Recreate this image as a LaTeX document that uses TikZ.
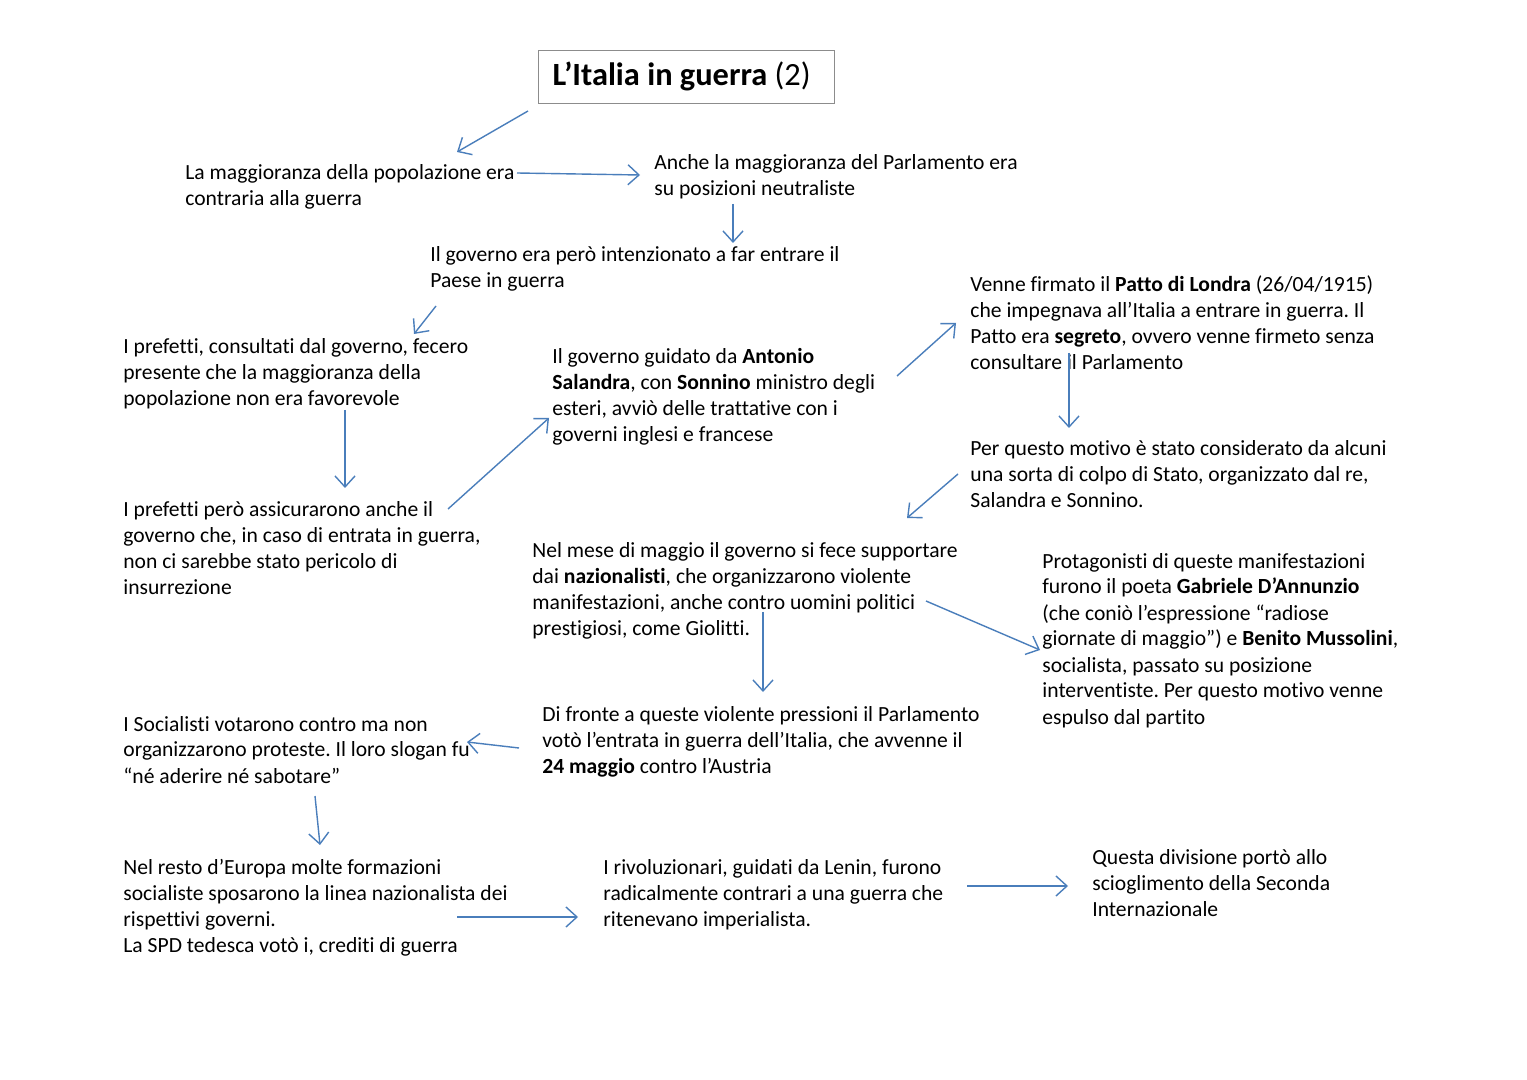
\documentclass[tikz,border=0pt]{standalone}
\usepackage{fontspec}
\setmainfont{Carlito}[Ligatures={NoCommon}]
\usetikzlibrary{arrows.meta}
\definecolor{arr}{HTML}{4A7EBB}
\definecolor{boxgray}{HTML}{8C8C8C}
\newcommand{\tb}[1]{\begin{tabular}[t]{@{}l@{}}#1\end{tabular}}
\frenchspacing
\tikzset{
  txt/.style={anchor=base west, inner sep=0pt, yshift=-0.5pt, font=\fontsize{10.8}{13}\selectfont},
  arrow/.style={draw=arr, line width=0.7pt, -{Straight Barb[length=5.5pt,width=10pt,line width=0.7pt]}},
  titlebox/.style={draw=boxgray, line width=0.7pt, anchor=north west, inner xsep=7pt, inner ysep=0pt,
    text height=17.5pt, text depth=9pt, font=\fontsize{16.2}{19}\selectfont}
}
\begin{document}
\begin{tikzpicture}[x=0.5pt,y=-0.5pt]
\useasboundingbox (0,0) rectangle (1527,1080);
\fill[white] (0,0) rectangle (1527,1080);

\node[titlebox] (title) at (538,50) {\makebox[134pt][l]{\textbf{L’Italia in guerra} (2)}};

\node[txt] (b1) at (185,179) {\tb{La maggioranza della popolazione era\\contraria alla guerra}};
\node[txt] (b2) at (654,169) {\tb{Anche la maggioranza del Parlamento era\\su posizioni neutraliste}};
\node[txt] (b3) at (430,261) {\tb{Il governo era però intenzionato a far entrare il\\Paese in guerra}};
\node[txt] (b4) at (123,353) {\tb{I prefetti, consultati dal governo, fecero\\presente che la maggioranza della\\popolazione non era favorevole}};
\node[txt] (b5) at (552,363) {\tb{Il governo guidato da \textbf{Antonio}\\\textbf{Salandra}, con \textbf{Sonnino} ministro degli\\esteri, avviò delle trattative con i\\governi inglesi e francese}};
\node[txt] (b6) at (970,291) {\tb{Venne firmato il \textbf{Patto di Londra} (26/04/1915)\\che impegnava all’Italia a entrare in guerra. Il\\Patto era \textbf{segreto}, ovvero venne firmeto senza\\consultare il Parlamento}};
\node[txt] (b7) at (970,455) {\tb{Per questo motivo è stato considerato da alcuni\\una sorta di colpo di Stato, organizzato dal re,\\Salandra e Sonnino.}};
\node[txt] (b8) at (123,516) {\tb{I prefetti però assicurarono anche il\\governo che, in caso di entrata in guerra,\\non ci sarebbe stato pericolo di\\insurrezione}};
\node[txt] (b9) at (532,557) {\tb{Nel mese di maggio il governo si fece supportare\\dai \textbf{nazionalisti}, che organizzarono violente\\manifestazioni, anche contro uomini politici\\prestigiosi, come Giolitti.}};
\node[txt] (b10) at (1042,567) {\tb{Protagonisti di queste manifestazioni\\furono il poeta \textbf{Gabriele D’Annunzio}\\(che coniò l’espressione “radiose\\giornate di maggio”) e \textbf{Benito Mussolini},\\socialista, passato su posizione\\interventiste. Per questo motivo venne\\espulso dal partito}};
\node[txt] (b11) at (542,720) {\tb{Di fronte a queste violente pressioni il Parlamento\\votò l’entrata in guerra dell’Italia, che avvenne il\\\textbf{24 maggio} contro l’Austria}};
\node[txt] (b12) at (123,730) {\tb{I Socialisti votarono contro ma non\\organizzarono proteste. Il loro slogan fu\\“né aderire né sabotare”}};
\node[txt] (b13) at (123,873) {\tb{Nel resto d’Europa molte formazioni\\socialiste sposarono la linea nazionalista dei\\rispettivi governi.\\La SPD tedesca votò i, crediti di guerra}};
\node[txt] (b14) at (603,873) {\tb{I rivoluzionari, guidati da Lenin, furono\\radicalmente contrari a una guerra che\\ritenevano imperialista.}};
\node[txt] (b15) at (1092,863) {\tb{Questa divisione portò allo\\scioglimento della Seconda\\Internazionale}};

\coordinate (a1s) at (528,111);  \coordinate (a1e) at (457,152);
\coordinate (a2s) at (517,173);  \coordinate (a2e) at (640,175);
\coordinate (a3s) at (733,204);  \coordinate (a3e) at (733,243);
\coordinate (a4s) at (436,306);  \coordinate (a4e) at (414,334);
\coordinate (a5s) at (345,410);  \coordinate (a5e) at (345,488);
\coordinate (a6s) at (448,509);  \coordinate (a6e) at (549,418);
\coordinate (a7s) at (897,376);  \coordinate (a7e) at (956,323);
\coordinate (a8s) at (1069,353); \coordinate (a8e) at (1069,428);
\coordinate (a9s) at (958,474);  \coordinate (a9e) at (907,518);
\coordinate (a10s) at (763,612); \coordinate (a10e) at (763,692);
\coordinate (a11s) at (926,601); \coordinate (a11e) at (1040,650);
\coordinate (a12s) at (519,748); \coordinate (a12e) at (467,742);
\coordinate (a13s) at (315,796); \coordinate (a13e) at (320,845);
\coordinate (a14s) at (457,917); \coordinate (a14e) at (578,917);
\coordinate (a15s) at (967,886); \coordinate (a15e) at (1068,886);

\foreach \i in {1,...,15} {\draw[arrow] (a\i s) -- (a\i e);}
\end{tikzpicture}
\end{document}
